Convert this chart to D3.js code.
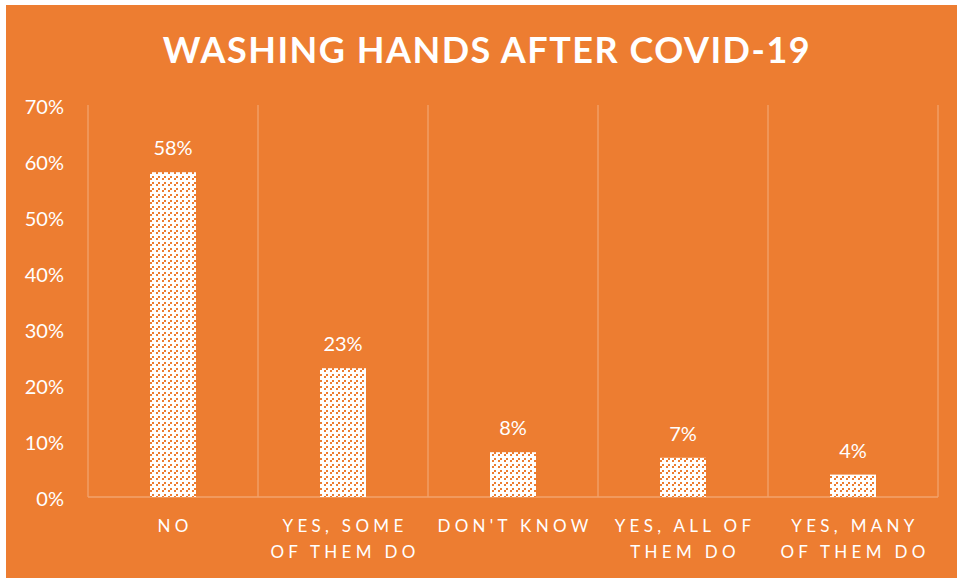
<!DOCTYPE html>
<html>
<head>
<meta charset="utf-8">
<script src="https://cdn.jsdelivr.net/npm/d3@7"></script>
<style>
  html, body { margin: 0; padding: 0; background: #ffffff; }
  svg { display: block; }
</style>
</head>
<body>
<svg id="chart" width="957" height="578"></svg>
<script>
// Survey results: washing hands after COVID-19
const categories = [
  ["NO"],
  ["YES, SOME", "OF THEM DO"],
  ["DON'T KNOW"],
  ["YES, ALL OF", "THEM DO"],
  ["YES, MANY", "OF THEM DO"]
];
const values = [0.58, 0.23, 0.08, 0.07, 0.04];
const valueLabels = ["58%", "23%", "8%", "7%", "4%"];
const yTicks = [0, 0.1, 0.2, 0.3, 0.4, 0.5, 0.6, 0.7];
const title = "WASHING HANDS AFTER COVID-19";

const W = 957, H = 578;
const orange = "#ED7D31";
const gridColor = "#F2A36C";
const font = "Lato, 'Open Sans', sans-serif";

const svg = d3.select("#chart");

// chart background
svg.append("rect")
  .attr("x", 6).attr("y", 5)
  .attr("width", W - 6).attr("height", H - 5)
  .attr("fill", orange);

// dashed upward-diagonal fill for the bars
const defs = svg.append("defs");
const pat = defs.append("pattern")
  .attr("id", "dashDiag")
  .attr("patternUnits", "userSpaceOnUse")
  .attr("width", 6).attr("height", 6);
pat.append("rect").attr("width", 6).attr("height", 6).attr("fill", "#ffffff");
[[0, 4], [2, 2]].forEach(([px, py]) => {
  pat.append("rect").attr("x", px).attr("y", py)
    .attr("width", 2).attr("height", 2).attr("fill", orange);
});

const plot = { left: 88, right: 938, top: 105, bottom: 497 };

const x = d3.scaleBand()
  .domain(d3.range(categories.length))
  .range([plot.left, plot.right])
  .paddingInner(0)
  .paddingOuter(0);

const y = d3.scaleLinear()
  .domain([0, 0.7])
  .range([plot.bottom, plot.top]);

// vertical gridlines between categories
const gridX = d3.range(categories.length + 1).map(i => plot.left + i * x.bandwidth());
svg.append("g")
  .selectAll("line")
  .data(gridX)
  .join("line")
  .attr("x1", d => d).attr("x2", d => d)
  .attr("y1", plot.top).attr("y2", plot.bottom)
  .attr("stroke", gridColor).attr("stroke-width", 1.3);

// baseline
svg.append("line")
  .attr("x1", plot.left).attr("x2", plot.right)
  .attr("y1", y(0)).attr("y2", y(0))
  .attr("stroke", gridColor).attr("stroke-width", 1.3);

// y-axis labels
const yAxis = d3.axisLeft(y)
  .tickValues(yTicks)
  .tickFormat(d3.format(".0%"))
  .tickSize(0)
  .tickPadding(24);
const yg = svg.append("g")
  .attr("transform", `translate(${plot.left},0)`)
  .call(yAxis);
yg.select(".domain").remove();
yg.selectAll("text")
  .attr("fill", "#ffffff")
  .attr("font-family", font)
  .attr("font-size", 20)
  .attr("dy", "0.42em");

// bars
const barW = 46;
svg.append("g")
  .selectAll("rect")
  .data(values)
  .join("rect")
  .attr("x", (d, i) => x(i) + x.bandwidth() / 2 - barW / 2)
  .attr("y", d => y(d))
  .attr("width", barW)
  .attr("height", d => y(0) - y(d))
  .attr("fill", "url(#dashDiag)");

// value labels
svg.append("g")
  .selectAll("text")
  .data(values)
  .join("text")
  .attr("x", (d, i) => x(i) + x.bandwidth() / 2)
  .attr("y", d => y(d) - 17)
  .attr("text-anchor", "middle")
  .attr("fill", "#ffffff")
  .attr("font-family", font)
  .attr("font-size", 20)
  .text((d, i) => valueLabels[i]);

// category labels
const catG = svg.append("g");
categories.forEach((lines, i) => {
  lines.forEach((line, j) => {
    catG.append("text")
      .attr("x", x(i) + x.bandwidth() / 2 + 2)
      .attr("y", 532 + j * 26)
      .attr("text-anchor", "middle")
      .attr("fill", "#ffffff")
      .attr("font-family", font)
      .attr("font-size", 17)
      .attr("letter-spacing", 4.3)
      .text(line);
  });
});

// title
svg.append("text")
  .attr("x", 487)
  .attr("y", 63)
  .attr("text-anchor", "middle")
  .attr("fill", "#ffffff")
  .attr("font-family", font)
  .attr("font-weight", "bold")
  .attr("font-size", 36)
  .attr("letter-spacing", 1.5)
  .text(title);
</script>
</body>
</html>
